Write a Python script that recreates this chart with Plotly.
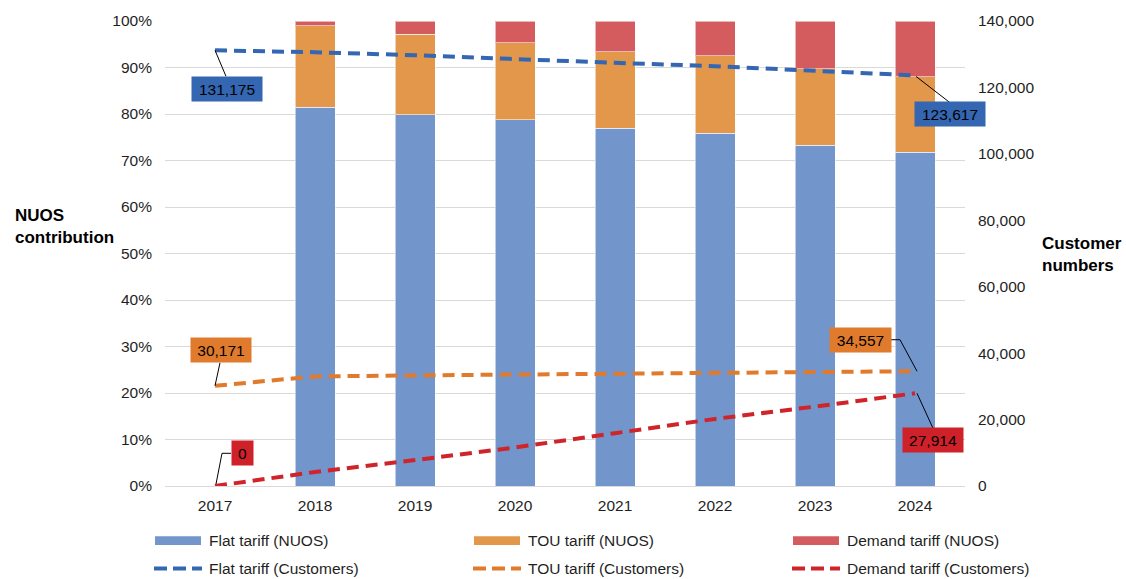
import plotly.graph_objects as go

# ---- data ----
years = [2017, 2018, 2019, 2020, 2021, 2022, 2023, 2024]

# NUOS contribution shares (fraction of total); no tariff split for 2017
flat_nuos = [None, 0.815, 0.798, 0.788, 0.769, 0.759, 0.733, 0.718]
tou_nuos = [None, 0.175, 0.174, 0.165, 0.165, 0.166, 0.164, 0.162]
demand_nuos = [None, 0.010, 0.028, 0.047, 0.066, 0.075, 0.103, 0.120]

# Customer numbers by tariff
flat_cust = [131175, 130600, 129700, 128500, 127400, 126400, 125000, 123617]
tou_cust = [30171, 33000, 33300, 33600, 33700, 34100, 34400, 34557]
demand_cust = [0, 4200, 7800, 11600, 15900, 20200, 23900, 27914]

pct_ticks = [0, 0.1, 0.2, 0.3, 0.4, 0.5, 0.6, 0.7, 0.8, 0.9, 1.0]
cust_ticks = [0, 20000, 40000, 60000, 80000, 100000, 120000, 140000]

# ---- styling ----
FONT = "Liberation Sans, Arial, sans-serif"
TXT = "#1f1f1f"
C_FLAT_BAR, C_TOU_BAR, C_DEM_BAR = "#7295CC", "#E2974B", "#D55C5E"
C_FLAT_LN, C_TOU_LN, C_DEM_LN = "#3466B2", "#E07B2D", "#D0242B"
DASH = "12px,7px"

W, H = 1126, 579
ML, MR, MT, MB = 165, 161, 18, 93
PW, PH = W - ML - MR, H - MT - MB


def px_x(px):
    return (px - ML) / PW


def px_y(py):
    return (H - MB - py) / PH


fig = go.Figure()

bar_line = dict(color="rgba(255,255,255,0.55)", width=1)
for name, vals, col in [
    ("Flat tariff (NUOS)", flat_nuos, C_FLAT_BAR),
    ("TOU tariff (NUOS)", tou_nuos, C_TOU_BAR),
    ("Demand tariff (NUOS)", demand_nuos, C_DEM_BAR),
]:
    fig.add_trace(go.Bar(x=years, y=vals, name=name, marker=dict(color=col, line=bar_line),
                         width=0.4, yaxis="y", showlegend=False))

for name, vals, col in [
    ("Flat tariff (Customers)", flat_cust, C_FLAT_LN),
    ("TOU tariff (Customers)", tou_cust, C_TOU_LN),
    ("Demand tariff (Customers)", demand_cust, C_DEM_LN),
]:
    fig.add_trace(go.Scatter(x=years, y=vals, name=name, mode="lines",
                             line=dict(color=col, width=4, dash=DASH),
                             yaxis="y2", showlegend=False))

# ---- data labels with leader lines (offsets in pixels from the point) ----
labels = [
    # (year, value, colour, dx, dy, box width, leader path)
    (years[0], flat_cust[0], C_FLAT_LN, 12, -39, 62, "M0,0 L11,-26"),
    (years[-1], flat_cust[-1], C_FLAT_LN, 35, -38.5, 62, "M1,-1 L34,-26.5"),
    (years[0], tou_cust[0], C_TOU_LN, 5.5, 35.5, 52, "M0,0 L5,23"),
    (years[-1], tou_cust[-1], C_TOU_LN, -54.5, 31, 53, "M2,0 L-15,31.5 L-24,31.5"),
    (years[0], demand_cust[0], "#CF2129", 27, 32.7, 13, "M1,2 L7,32.7 L16,32.7"),
    (years[-1], demand_cust[-1], "#CF2129", 18, -46.5, 52, "M2,0 L18,-35"),
]
shapes = []
annotations = []
for yr, val, col, dx, dy, bw, path in labels:
    shapes.append(dict(type="path", xref="x", yref="y2", xsizemode="pixel", ysizemode="pixel",
                       xanchor=yr, yanchor=val, path=path,
                       line=dict(color="black", width=1)))
    annotations.append(dict(x=yr, y=val, xref="x", yref="y2", xshift=dx, yshift=dy,
                            text=f"{val:,}", showarrow=False, bgcolor=col,
                            borderpad=4, width=bw, height=16, align="center",
                            font=dict(family=FONT, size=15.5, color="black")))

# ---- axis titles ----
annotations.append(dict(x=px_x(13), y=px_y(225), xref="paper", yref="paper", xanchor="left",
                        yanchor="middle", align="left", showarrow=False,
                        text="<b>NUOS<br>contribution</b>",
                        font=dict(family=FONT, size=17, color="black")))
annotations.append(dict(x=px_x(1040), y=px_y(253), xref="paper", yref="paper", xanchor="left",
                        yanchor="middle", align="left", showarrow=False,
                        text="<b>Customer<br>numbers</b>",
                        font=dict(family=FONT, size=17, color="black")))

# ---- legend (two rows, three columns) ----
legend_cols = [155, 474, 793]
bar_items = [("Flat tariff (NUOS)", C_FLAT_BAR), ("TOU tariff (NUOS)", C_TOU_BAR),
             ("Demand tariff (NUOS)", C_DEM_BAR)]
line_items = [("Flat tariff (Customers)", C_FLAT_LN), ("TOU tariff (Customers)", C_TOU_LN),
              ("Demand tariff (Customers)", C_DEM_LN)]
for x0, (name, col) in zip(legend_cols, bar_items):
    shapes.append(dict(type="rect", xref="paper", yref="paper",
                       x0=px_x(x0), x1=px_x(x0 + 46), y0=px_y(545.5), y1=px_y(536.5),
                       fillcolor=col, line=dict(width=0)))
    annotations.append(dict(x=px_x(x0 + 52), y=px_y(541), xref="paper", yref="paper",
                            xanchor="left", yanchor="middle", showarrow=False, text=name,
                            font=dict(family=FONT, size=15.5, color=TXT)))
for x0, (name, col) in zip(legend_cols, line_items):
    shapes.append(dict(type="line", xref="paper", yref="paper",
                       x0=px_x(x0 - 1), x1=px_x(x0 + 47), y0=px_y(569), y1=px_y(569),
                       line=dict(color=col, width=4, dash="13px,6px")))
    annotations.append(dict(x=px_x(x0 + 52), y=px_y(569), xref="paper", yref="paper",
                            xanchor="left", yanchor="middle", showarrow=False, text=name,
                            font=dict(family=FONT, size=15.5, color=TXT)))

fig.update_layout(
    width=W, height=H,
    margin=dict(l=ML, r=MR, t=MT, b=MB),
    paper_bgcolor="white", plot_bgcolor="white",
    barmode="stack", bargap=0.6,
    showlegend=False,
    font=dict(family=FONT, size=15.5, color=TXT),
    xaxis=dict(range=[2016.5, 2024.5], tickvals=years, ticktext=[str(y) for y in years],
               showgrid=False, zeroline=False, showline=False, ticks="",
               ticklabelstandoff=8, tickfont=dict(size=15.5, color=TXT)),
    yaxis=dict(range=[0, 1], tickvals=pct_ticks, tickformat=".0%", showgrid=True,
               gridcolor="#D9D9D9", gridwidth=1, zeroline=True, zerolinecolor="#D9D9D9",
               zerolinewidth=1, showline=False,
               ticks="", ticklabelstandoff=12, tickfont=dict(size=15.5, color=TXT)),
    yaxis2=dict(range=[0, 140000], tickvals=cust_ticks, tickformat=",", overlaying="y",
                side="right", showgrid=False, zeroline=False, showline=False, ticks="",
                ticklabelstandoff=12, tickfont=dict(size=15.5, color=TXT)),
    shapes=shapes,
    annotations=annotations,
)

fig.write_html("out.html")
